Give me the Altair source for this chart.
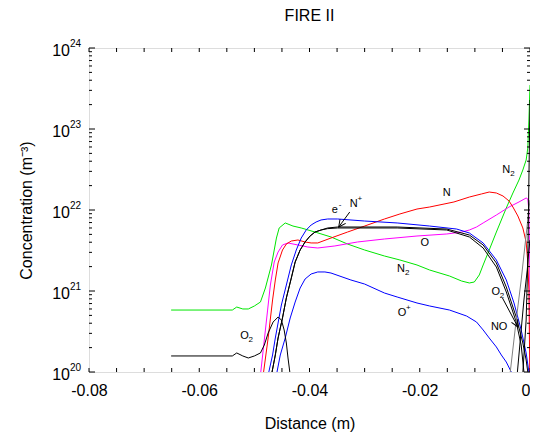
import altair as alt
import pandas as pd

FONT = "Liberation Sans"

# ---------------- data: distance (m) and log10 of concentration (m^-3) ----------------
n2_x = [-0.0651, -0.0540, -0.0532, -0.0521, -0.0511, -0.0500, -0.0489, -0.0480, -0.0469, -0.0460,
        -0.0455, -0.0444, -0.0430, -0.0415, -0.0390, -0.0361, -0.0331, -0.0300, -0.0264, -0.0236,
        -0.0205, -0.0182, -0.0146, -0.0124, -0.0110, -0.0101, -0.0092, -0.0085, -0.0074, -0.0061,
        -0.0043, -0.0031, -0.0020, -0.0013, -0.0007, -0.0004, -0.0002, 0.0]
n2_lg = [20.765, 20.765, 20.802, 20.778, 20.778, 20.815, 20.864, 21.037, 21.321, 21.654,
         21.778, 21.840, 21.802, 21.778, 21.728, 21.667, 21.580, 21.506, 21.432, 21.383,
         21.321, 21.259, 21.185, 21.123, 21.099, 21.111, 21.198, 21.321, 21.506, 21.728,
         22.025, 22.210, 22.370, 22.494, 22.617, 22.765, 23.111, 23.543]

n_x = [-0.0484, -0.0475, -0.0467, -0.0462, -0.0457, -0.0449, -0.0442, -0.0433, -0.0421, -0.0408,
       -0.0397, -0.0385, -0.0361, -0.0331, -0.0300, -0.0264, -0.0236, -0.0205, -0.0182, -0.0138,
       -0.0110, -0.0088, -0.0074, -0.0061, -0.0049, -0.0038, -0.0031, -0.0022, -0.0013, -0.0007,
       -0.0004, -0.0002, -0.0001, 0.0]
n_lg = [19.963, 20.420, 20.889, 21.136, 21.346, 21.506, 21.580, 21.617, 21.630, 21.605,
        21.593, 21.593, 21.654, 21.728, 21.802, 21.889, 21.951, 22.012, 22.037, 22.099,
        22.160, 22.198, 22.222, 22.210, 22.173, 22.111, 22.037, 21.926, 21.778, 21.605,
        21.358, 21.012, 20.395, 19.901]

o_x = [-0.0489, -0.0482, -0.0476, -0.0471, -0.0464, -0.0457, -0.0449, -0.0439, -0.0421, -0.0403,
       -0.0385, -0.0354, -0.0313, -0.0264, -0.0205, -0.0151, -0.0124, -0.0110, -0.0097, -0.0085,
       -0.0061, -0.0038, -0.0020, -0.0007, -0.0004, -0.0002, -0.00005, 0.0]
o_lg = [19.963, 20.395, 20.765, 21.074, 21.358, 21.481, 21.568, 21.593, 21.568, 21.543,
        21.531, 21.556, 21.605, 21.642, 21.679, 21.704, 21.728, 21.753, 21.790, 21.840,
        21.938, 22.037, 22.099, 22.148, 22.136, 22.000, 21.383, 19.901]

bl_x = [-0.0475, -0.0467, -0.0462, -0.0451, -0.0442, -0.0433, -0.0424, -0.0415, -0.0406, -0.0397,
        -0.0388, -0.0379, -0.0367, -0.0349, -0.0300, -0.0241, -0.0182, -0.0133, -0.0110, -0.0085,
        -0.0061, -0.0043, -0.0029, -0.0016, -0.0007, -0.0002, 0.0]
bl_lg = [19.963, 20.210, 20.420, 20.827, 21.074, 21.321, 21.506, 21.654, 21.753, 21.815,
         21.852, 21.877, 21.889, 21.889, 21.864, 21.840, 21.802, 21.765, 21.716, 21.593,
         21.383, 21.136, 20.852, 20.519, 20.235, 20.000, 19.901]

np_x = [-0.0469, -0.0462, -0.0457, -0.0449, -0.0442, -0.0433, -0.0426, -0.0417, -0.0408, -0.0399,
        -0.0390, -0.0379, -0.0367, -0.0349, -0.0241, -0.0151, -0.0110, -0.0085, -0.0061, -0.0043,
        -0.0025, -0.0013, -0.0007, -0.0004]
np_lg = [19.963, 20.210, 20.420, 20.667, 20.914, 21.160, 21.358, 21.506, 21.605, 21.679,
         21.728, 21.753, 21.778, 21.790, 21.790, 21.765, 21.691, 21.568, 21.346, 21.049,
         20.679, 20.358, 20.148, 20.000]

el_x = [-0.0469, -0.0462, -0.0457, -0.0449, -0.0442, -0.0433, -0.0426, -0.0417, -0.0408, -0.0399,
        -0.0390, -0.0379, -0.0367, -0.0349, -0.0241, -0.0151, -0.0110, -0.0085, -0.0061, -0.0043,
        -0.0025, -0.0016, -0.0011]
el_lg = [19.963, 20.210, 20.420, 20.667, 20.914, 21.160, 21.358, 21.506, 21.605, 21.679,
         21.728, 21.753, 21.770, 21.778, 21.778, 21.753, 21.667, 21.531, 21.296, 20.988,
         20.617, 20.333, 20.000]

op_x = [-0.0460, -0.0453, -0.0444, -0.0435, -0.0426, -0.0417, -0.0408, -0.0397, -0.0385, -0.0372,
        -0.0361, -0.0325, -0.0300, -0.0264, -0.0241, -0.0205, -0.0182, -0.0146, -0.0115, -0.0097,
        -0.0085, -0.0074, -0.0061, -0.0052, -0.0043, -0.0034, -0.0031]
op_lg = [19.963, 20.210, 20.420, 20.667, 20.864, 21.037, 21.148, 21.210, 21.235, 21.235,
         21.222, 21.136, 21.086, 20.975, 20.926, 20.852, 20.815, 20.765, 20.691, 20.617,
         20.519, 20.420, 20.309, 20.210, 20.123, 20.000, 19.951]

o2_x = [-0.0651, -0.0540, -0.0532, -0.0521, -0.0511, -0.0500, -0.0489, -0.0482, -0.0475, -0.0466,
        -0.0457, -0.0451, -0.0446, -0.0442, -0.0439, -0.0435]
o2_lg = [20.198, 20.198, 20.235, 20.198, 20.173, 20.198, 20.235, 20.333, 20.481, 20.617,
         20.679, 20.642, 20.519, 20.358, 20.173, 19.963]

o2r_x = [-0.0036, -0.0025, -0.0016, -0.0009, -0.0004, 0.0]
o2r_lg = [19.988, 20.642, 21.136, 21.568, 21.877, 22.123]

no_x = [-0.0023, -0.0016, -0.0011, -0.0005, -0.0002, 0.0]
no_lg = [19.988, 20.519, 20.889, 21.259, 21.506, 21.630]

k_x = [-0.0013, -0.0007, -0.0004, -0.0002, 0.0]
k_lg = [19.988, 20.642, 21.383, 22.370, 23.358]

series = [
    ("N2", "#00e600", n2_x, n2_lg),
    ("O", "#ff00ff", o_x, o_lg),
    ("N", "#ff0000", n_x, n_lg),
    ("blue_upper", "#0000ff", bl_x, bl_lg),
    ("O+", "#0000ff", op_x, op_lg),
    ("O2", "#000000", o2_x, o2_lg),
    ("N+", "#000000", np_x, np_lg),
    ("e-", "#000000", el_x, el_lg),
    ("O2_wall", "#808080", o2r_x, o2r_lg),
    ("NO", "#000000", no_x, no_lg),
    ("wall", "#000000", k_x, k_lg),
]

# x ticks, y ticks
x_major = [-0.08, -0.06, -0.04, -0.02, 0.0]
x_minor = [-0.075, -0.07, -0.065, -0.055, -0.05, -0.045, -0.035, -0.03, -0.025,
           -0.015, -0.01, -0.005]
y_exps = [20, 21, 22, 23, 24]

# annotations: (main text, script text, script kind, x, log10 c)
labels = [
    ("N", "", "", -0.0151, 22.210),
    ("O", "", "", -0.0191, 21.593),
    ("N", "2", "sub", -0.0234, 21.272),
    ("O", "+", "sup", -0.0232, 20.728),
    ("N", "2", "sub", -0.0043, 22.494),
    ("O", "2", "sub", -0.0062, 20.988),
    ("NO", "", "", -0.0056, 20.556),
    ("O", "2", "sub", -0.0518, 20.444),
    ("e", "-", "sup", -0.0354, 22.000),
    ("N", "+", "sup", -0.0320, 22.074),
]
# arrows: tail x, tail lg, tip x, tip lg, head angle
arrows = [
    (-0.0327, 21.975, -0.0347, 21.790, 216),
    (-0.0050, 20.914, -0.0022, 20.556, 152),
]

# ---------------- build tables ----------------
rows = []
for name, _, xs, lg in series:
    for i, (xv, lv) in enumerate(zip(xs, lg)):
        rows.append({"s": name, "x": xv, "c": 10 ** lv, "i": i})
df = pd.DataFrame(rows)

names = [s[0] for s in series]
colors = [s[1] for s in series]

W, H = 441, 324

xscale = alt.Scale(domain=[-0.08, 0], nice=False, zero=False)
yscale = alt.Scale(type="log", domain=[1e20, 1e24], nice=False)

X = alt.X("x:Q", scale=xscale,
          axis=alt.Axis(values=x_major, labelExpr="'' + datum.value", ticks=False, domain=False,
                        grid=False, labelFontSize=16, labelPadding=10, labelColor="black",
                        labelAlign=alt.condition("datum.value == 0", alt.value("right"),
                                                 alt.value("center")),
                        title="Distance (m)", titleFontSize=16, titleFontWeight="normal",
                        titlePadding=17, titleColor="black", labelFlush=False))
Y = alt.Y("c:Q", scale=yscale,
          axis=alt.Axis(labels=False, ticks=False, domain=False, grid=False,
                        title="Concentration (m⁻³)", titleFontSize=16, titleFontWeight="normal",
                        titlePadding=55, titleColor="black"))

lines = alt.Chart(df).mark_line(strokeWidth=1, clip=True).encode(
    x=X, y=Y,
    color=alt.Color("s:N", scale=alt.Scale(domain=names, range=colors), legend=None),
    detail="s:N",
    order="i:Q",
)

xt_major = pd.DataFrame({"x": x_major})
xt_minor = pd.DataFrame({"x": x_minor})
xt_all = pd.concat([xt_major, xt_minor])
tick_bottom = alt.Chart(xt_all).mark_rule(color="black", strokeWidth=1).encode(
    x=alt.X("x:Q"), y=alt.value(H), y2=alt.value(H - 4))
tick_top = alt.Chart(xt_all).mark_rule(color="black", strokeWidth=1).encode(
    x=alt.X("x:Q"), y=alt.value(0), y2=alt.value(4))

ymaj = pd.DataFrame({"c": [10.0 ** e for e in y_exps]})
ymin = pd.DataFrame({"c": [k * 10.0 ** e for e in y_exps[:-1] for k in range(2, 10)]})
yl_maj = alt.Chart(ymaj).mark_rule(color="black").encode(
    y=alt.Y("c:Q"), x=alt.value(0), x2=alt.value(6))
yr_maj = alt.Chart(ymaj).mark_rule(color="black").encode(
    y=alt.Y("c:Q"), x=alt.value(W), x2=alt.value(W - 6))
yl_min = alt.Chart(ymin).mark_rule(color="black").encode(
    y=alt.Y("c:Q"), x=alt.value(0), x2=alt.value(3))
yr_min = alt.Chart(ymin).mark_rule(color="black").encode(
    y=alt.Y("c:Q"), x=alt.value(W), x2=alt.value(W - 3))

ylab_df = pd.DataFrame({"c": [10.0 ** e for e in y_exps], "e": [str(e) for e in y_exps]})
ylab_base = alt.Chart(ylab_df).mark_text(align="right", baseline="middle", dx=-19, dy=3,
                                         fontSize=16, font=FONT, color="black").encode(
    y=alt.Y("c:Q"), x=alt.value(0), text=alt.value("10"))
ylab_exp = alt.Chart(ylab_df).mark_text(align="left", baseline="middle", dx=-19, dy=-4,
                                        fontSize=10, font=FONT, color="black").encode(
    y=alt.Y("c:Q"), x=alt.value(0), text="e:N")

lab_df = pd.DataFrame([{"t": a, "s": b, "k": k, "x": xv, "c": 10 ** lv}
                       for a, b, k, xv, lv in labels])
lab_main = alt.Chart(lab_df).mark_text(align="center", baseline="middle", fontSize=11,
                                       font=FONT, color="black").encode(
    x=alt.X("x:Q"), y=alt.Y("c:Q"), text="t:N")
lab_sub = alt.Chart(lab_df).transform_filter("datum.k == 'sub'").mark_text(
    align="left", baseline="middle", dx=4, dy=4, fontSize=8, font=FONT, color="black").encode(
    x=alt.X("x:Q"), y=alt.Y("c:Q"), text="s:N")
lab_sup = alt.Chart(lab_df).transform_filter("datum.k == 'sup'").mark_text(
    align="left", baseline="middle", dx=4, dy=-5, fontSize=8, font=FONT, color="black").encode(
    x=alt.X("x:Q"), y=alt.Y("c:Q"), text="s:N")

arr_df = pd.DataFrame([{"x": a, "c": 10 ** b, "x2": c, "c2": 10 ** d, "a": e}
                       for a, b, c, d, e in arrows])
arr_line = alt.Chart(arr_df).mark_rule(color="black", strokeWidth=1).encode(
    x=alt.X("x:Q"), y=alt.Y("c:Q"), x2="x2:Q", y2="c2:Q")
arr_head = alt.Chart(arr_df).mark_point(shape="M-0.5,1L0,0L0.5,1", filled=False,
                                        color="black", strokeWidth=1, size=196, opacity=1).encode(
    x=alt.X("x2:Q"), y=alt.Y("c2:Q"), angle=alt.Angle("a:Q", scale=None))

chart = alt.layer(
    lines, tick_bottom, tick_top, yl_maj, yr_maj, yl_min, yr_min,
    ylab_base, ylab_exp, lab_main, lab_sub, lab_sup, arr_line, arr_head,
).properties(
    width=W, height=H,
    title=alt.Title("FIRE II", fontSize=16, fontWeight="normal", font=FONT, color="black",
                    offset=15, frame="group"),
    autosize=alt.AutoSizeParams(type="none"),
    padding={"left": 81, "top": 40, "right": 0, "bottom": 64},
).configure_view(stroke="black", strokeWidth=1.5).configure_axis(
    labelFont=FONT, titleFont=FONT
).configure(background="white")

chart.save("out.html", embed_options={"renderer": "svg", "actions": False})
